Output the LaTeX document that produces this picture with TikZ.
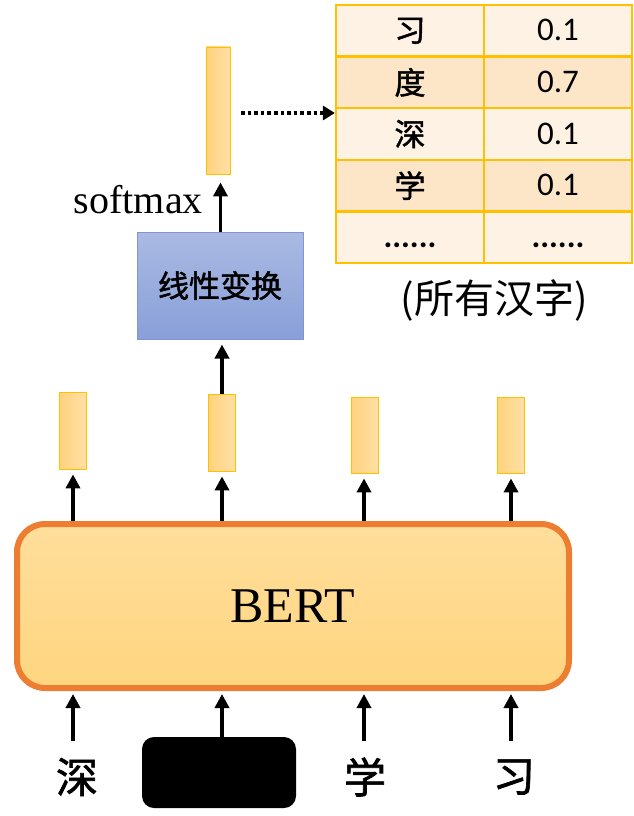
\documentclass[tikz,border=0pt]{standalone}
\usepackage{fontspec}
\setmainfont{Liberation Serif}
\newfontfamily\cjk{Noto Sans CJK SC}
\newfontfamily\cjkm{Noto Sans CJK SC}[FakeBold=1.6]
\newfontfamily\cali{Carlito}
\usetikzlibrary{arrows.meta}
\definecolor{gold}{HTML}{FFC000}
\definecolor{orng}{HTML}{ED7D31}
\definecolor{lightrow}{HTML}{FEF2E4}
\definecolor{darkrow}{HTML}{FDE6C8}
\definecolor{barA}{HTML}{FFD27E}
\definecolor{barB}{HTML}{FFE0A6}
\definecolor{blueT}{HTML}{AABAE3}
\definecolor{blueB}{HTML}{889FD8}
\definecolor{blueE}{HTML}{7F96D2}
\definecolor{bertT}{HTML}{FFDE9C}
\definecolor{bertB}{HTML}{FFD57F}
\newcommand\mysixdots{......}
\tikzset{
  arr/.style={line width=3.6pt,-{Triangle[width=14pt,length=14pt]}},
  dotarr/.style={line width=3.6pt,dash pattern=on 3.6pt off 3pt,-{Triangle[width=14pt,length=12pt]}},
  vbar/.style={draw=gold,line width=0.8pt,left color=barA,right color=barB,minimum width=27pt,inner sep=0pt},
  cell/.style={draw=gold,line width=2.2pt,minimum width=148pt,minimum height=51.6pt,inner sep=0pt},
  cjkcell/.style={cell,font=\cjkm\fontsize{31}{36}\selectfont},
  numcell/.style={cell,font=\cali\fontsize{33}{38}\selectfont,text height=20pt,text depth=0pt},
  word/.style={font=\cjkm\fontsize{42}{50}\selectfont,inner sep=0pt}
}
\begin{document}
\begin{tikzpicture}[x=1pt,y=-1pt]
\useasboundingbox (0,0) rectangle (633,816);
% table
\foreach \i/\ch/\v/\col in {1/习/0.1/lightrow,2/度/0.7/darkrow,3/深/0.1/lightrow,4/学/0.1/darkrow}{
  \node[cjkcell,fill=\col] (c\i a) at (410,{5+51.6*(\i-0.5)}) {\ch};
  \node[numcell,fill=\col] (c\i b) at (558,{5+51.6*(\i-0.5)}) {\v};
}
\node[numcell,fill=lightrow,font=\cali\bfseries\fontsize{33}{38}\selectfont] (c5a) at (410,{5+51.6*4.5}) {\mysixdots};
\node[numcell,fill=lightrow,font=\cali\bfseries\fontsize{33}{38}\selectfont] (c5b) at (558,{5+51.6*4.5}) {\mysixdots};
\node[font=\cjk\fontsize{40}{48}\selectfont] (all) at (494,300) {(所有汉字)};
% top bar
\node[vbar,minimum width=24pt,minimum height=127pt] (tbar) at (218.5,110.5) {};
\draw[dotarr] ([xshift=10pt,yshift=-2.5pt]tbar.east) -- ([yshift=-2.5pt]tbar.east -| c3a.west);
% linear box
\node[draw=blueE,line width=1pt,top color=blueT,bottom color=blueB,minimum width=166pt,minimum height=107pt,inner sep=0pt,font=\cjkm\fontsize{31}{36}\selectfont] (lin) at (220,285.5) {线性变换};
\draw[arr] (lin.north -| 220.5,0) -- ([yshift=-8pt]tbar.south -| 220.5,0);
\node[anchor=base east,font=\fontsize{40}{48}\selectfont,inner sep=0pt] (sm) at (203,213) {softmax};
% hidden bars
\node[vbar,minimum height=77pt] (h1) at (73,430.5) {};
\node[vbar,minimum height=77pt] (h2) at (222,432.5) {};
\node[vbar,minimum height=76pt] (h3) at (365,435) {};
\node[vbar,minimum height=76pt] (h4) at (511,435) {};
\draw[arr] (h2.north) -- ([yshift=-5pt]lin.south -| h2.north);
% BERT
\node[draw=orng,line width=6pt,rounded corners=28pt,top color=bertT,bottom color=bertB,minimum width=552pt,minimum height=164pt,inner sep=0pt,font=\fontsize{50}{60}\selectfont] (bert) at (293,606) {BERT};
\foreach \k/\xx in {1/73,2/222,3/364,4/511}{
  \draw[arr] (bert.north -| \xx,0) -- ([yshift=-5pt]h\k.south -| \xx,0);
}
% inputs
\node[word] (w1) at (77,777) {深};
\node[fill=black,rounded corners=12pt,minimum width=154pt,minimum height=71pt,inner sep=0pt] (mask) at (219,772.5) {};
\node[word] (w3) at (365,777) {学};
\node[word] (w4) at (514,777) {习};
\coordinate (b1) at (73,741);
\coordinate (b3) at (364,741);
\coordinate (b4) at (511,741);
\draw[arr] (b1) -- ([yshift=-3pt]bert.south -| b1);
\draw[arr] (mask.north -| 222,0) -- ([yshift=-3pt]bert.south -| 222,0);
\draw[arr] (b3) -- ([yshift=-3pt]bert.south -| b3);
\draw[arr] (b4) -- ([yshift=-3pt]bert.south -| b4);
\end{tikzpicture}
\end{document}
